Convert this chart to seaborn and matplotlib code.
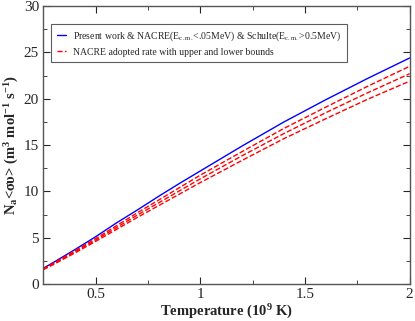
import matplotlib
matplotlib.use("Agg")
import matplotlib.pyplot as plt
import numpy as np
import seaborn as sns
from matplotlib.ticker import MultipleLocator, FormatStrFormatter

# temperature in 10^9 K
temps = [0.25, 0.3, 0.4, 0.5, 0.6, 0.7, 0.8, 0.9, 1.0, 1.2, 1.4, 1.6, 1.8, 2.0]

# present work rate
present = [1.7, 2.35, 3.7, 5.1, 6.6, 8.0, 9.45, 10.85, 12.2, 14.9, 17.5, 19.9, 22.2, 24.4]

# NACRE adopted, upper and lower
nacre_up = [1.65, 2.27, 3.56, 4.9, 6.3, 7.7, 9.05, 10.4, 11.75, 14.3, 16.8, 19.1, 21.35, 23.5]
nacre_mid = [1.6, 2.2, 3.45, 4.75, 6.1, 7.45, 8.75, 10.05, 11.35, 13.85, 16.25, 18.5, 20.65, 22.7]
nacre_low = [1.55, 2.13, 3.34, 4.6, 5.9, 7.2, 8.45, 9.7, 10.95, 13.35, 15.7, 17.85, 19.95, 21.9]

sns.set_style("ticks")
plt.rcParams["font.family"] = ["Liberation Serif", "DejaVu Serif"]
plt.rcParams["mathtext.fontset"] = "custom"
plt.rcParams["mathtext.rm"] = "Liberation Serif"
plt.rcParams["mathtext.it"] = "Liberation Serif:italic"
plt.rcParams["mathtext.bf"] = "Liberation Serif:bold"
plt.rcParams["xtick.direction"] = "in"
plt.rcParams["ytick.direction"] = "in"

fig, ax = plt.subplots(figsize=(4.15, 3.21), dpi=100)

sns.lineplot(x=temps, y=present, color="#0000ff", lw=1.0, ax=ax,
             label="Present work & NACRE(E$_{\\mathrm{c.m.}}$<.05MeV) & Schulte(E$_{\\mathrm{c.m.}}$>0.5MeV)")
sns.lineplot(x=temps, y=nacre_up, color="#ff0000", lw=1.0, ls="--", ax=ax,
             label="NACRE adopted rate with upper and lower bounds")
sns.lineplot(x=temps, y=nacre_mid, color="#ff0000", lw=1.0, ls="--", ax=ax, label="_nolegend_")
sns.lineplot(x=temps, y=nacre_low, color="#ff0000", lw=1.0, ls="--", ax=ax, label="_nolegend_")

ax.set_xlim(0.25, 2)
ax.set_ylim(0, 30)
ax.xaxis.set_major_locator(MultipleLocator(0.5))
ax.xaxis.set_minor_locator(MultipleLocator(0.25))
ax.yaxis.set_major_locator(MultipleLocator(5))
ax.yaxis.set_minor_locator(MultipleLocator(2.5))
ax.xaxis.set_major_formatter(FormatStrFormatter("%g"))
ax.yaxis.set_major_formatter(FormatStrFormatter("%g"))
ax.tick_params(which="both", top=True, right=True, labelsize=11, pad=3)
ax.tick_params(which="major", length=5)
ax.tick_params(which="minor", length=3)
for s in ax.spines.values():
    s.set_color("#555555")
    s.set_linewidth(1.0)

ax.set_xlabel("Temperature (10$^{\\mathbf{9}}$ K)", fontsize=10.5, fontweight="bold", labelpad=1)
ax.set_ylabel("N$_{\\mathbf{a}}$<συ> (m$^{\\mathbf{3}}$ mol$^{\\mathbf{-1}}$ s$^{\\mathbf{-1}}$)",
              fontsize=10.5, fontweight="bold", labelpad=2)

leg = ax.legend(loc="upper left", bbox_to_anchor=(0.022, 0.935), fontsize=7.0,
                frameon=True, fancybox=False, edgecolor="#333333",
                handlelength=1.0, handletextpad=0.7, borderaxespad=0.0,
                labelspacing=0.5, borderpad=0.55)
leg.get_frame().set_linewidth(0.8)

fig.subplots_adjust(left=0.104, right=0.987, bottom=0.115, top=0.981)
fig.savefig("out.png", dpi=100)
